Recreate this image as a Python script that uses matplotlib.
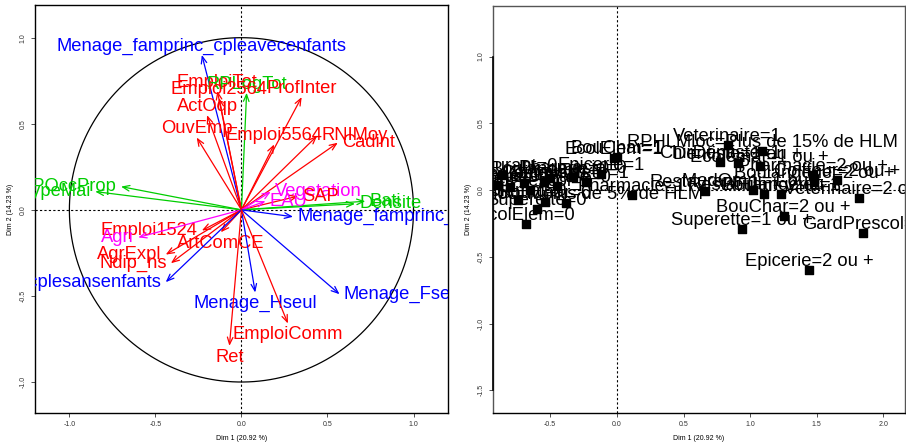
import matplotlib
matplotlib.use("Agg")
import matplotlib.pyplot as plt
import numpy as np

plt.rcParams["font.family"] = ["Liberation Sans", "DejaVu Sans"]

# --- variables (correlation circle) ---
var_names = ["Menage_famprinc_cpleavecenfants", "EmploiTot", "RPLogTot", "Emploi2564",
             "ProfInter", "ActOqp", "OuvEmp", "Emploi5564", "RNIMoy", "Cadint",
             "RPOccProp", "TypeMai", "Vegetation", "SAP", "Bati", "Densite", "EAU",
             "Menage_famprinc_monop", "Emploi1524", "Agri", "ArtComCE", "AgrExpl",
             "Ndip_ns", "Menage_famprinc_cplesansenfants", "Menage_Hseul",
             "Menage_Fseul", "EmploiComm", "Ret"]
var_dim1 = [-0.23, -0.14, 0.03, -0.13, 0.35, -0.20, -0.26, 0.19, 0.44, 0.56,
            -0.70, -0.85, 0.17, 0.33, 0.72, 0.66, 0.14, 0.30, -0.23, -0.60,
            -0.12, -0.44, -0.41, -0.44, 0.08, 0.57, 0.27, -0.07]
var_dim2 = [0.90, 0.69, 0.68, 0.65, 0.655, 0.55, 0.42, 0.38, 0.43, 0.39,
            0.135, 0.106, 0.105, 0.08, 0.05, 0.035, 0.05, -0.04, -0.12, -0.16,
            -0.13, -0.26, -0.31, -0.42, -0.48, -0.49, -0.66, -0.79]
var_group = ["menage", "pop", "logement", "pop", "pop", "pop", "pop", "pop", "pop", "pop",
             "logement", "logement", "sol", "pop", "logement", "logement", "sol",
             "menage", "pop", "sol", "pop", "pop", "pop", "menage", "menage",
             "menage", "pop", "pop"]
group_colors = {"pop": "#FF0000", "logement": "#00CD00", "menage": "#0000FF", "sol": "#FF00FF"}

# --- modalities (categories) ---
cat_names = ["Veterinaire=1", "RPHLMloc=Plus de 15% de HLM", "Dentiste=1 ou +", "Ecolemat=1 ou +",
             "BouChar=1", "EcolElem=1", "ChirDentiste=1", "Epicerie=1", "Pharmacie=2 ou +",
             "Coiffeur=2 ou +", "Boulangerie=2 ou +", "MedOmni=1 ou +", "Restaurant=2 ou +",
             "Boulangerie=1", "Restaurant=1", "Veterinaire=2 ou +", "BouChar=2 ou +",
             "Superette=1 ou +", "GardPrescol=1", "Epicerie=2 ou +", "EcolElem=0",
             "RPHLMloc=Moins de 5% de HLM", "Pharmacie=1", "Ecolemat=0", "Superette=0",
             "BouChar=0", "Restaurant=0", "Boulangerie=0", "Pharmacie=0", "Coiffeur=1",
             "Dentiste=0", "MedOmni=0", "Veterinaire=0", "GardPrescol=0", "Epicerie=0",
             "Coiffeur=0"]
cat_dim1 = [0.83, 1.09, 0.91, 1.07, 0.00, -0.02, 0.77, -0.12, 1.47,
            1.65, 1.48, 1.02, 1.10, 1.23, 0.66, 1.82, 1.25,
            0.94, 1.85, 1.44, -0.68, -0.38, 0.11, -0.74, -0.60,
            -0.54, -0.86, -0.50, -0.33, -0.23, -0.80, -0.70, -0.45, -0.65, -0.90, -0.55]
cat_dim2 = [0.34, 0.29, 0.205, 0.18, 0.25, 0.24, 0.21, 0.12, 0.11,
            0.075, 0.06, 0.0, -0.03, -0.03, -0.01, -0.06, -0.195,
            -0.29, -0.32, -0.60, -0.255, -0.10, -0.035, -0.075, -0.14,
            -0.09, 0.11, 0.09, 0.10, 0.06, 0.025, 0.05, 0.03, 0.0, 0.04, 0.06]

xlab = "Dim 1 (20.92 %)"
ylab = "Dim 2 (14.23 %)"
label_size = 13.2


def style_axes(ax, xticks, yticks, spine_color="black"):
    ax.set_xticks(xticks)
    ax.set_yticks(yticks)
    ax.set_xticklabels([f"{t:.1f}" for t in xticks])
    ax.set_yticklabels([f"{t:.1f}" for t in yticks], rotation=90, va="center")
    ax.tick_params(labelsize=5, length=3, width=0.6, pad=3, colors="#333333")
    ax.set_xlabel(xlab, fontsize=5, labelpad=5)
    ax.set_ylabel(ylab, fontsize=5, labelpad=4)
    for s in ax.spines.values():
        s.set_linewidth(1.0)
        s.set_color(spine_color)
    ax.axhline(0, color="black", lw=0.8, ls=(0, (2, 2)), zorder=1)
    ax.axvline(0, color="black", lw=0.8, ls=(0, (2, 2)), zorder=1)


fig = plt.figure(figsize=(9.06, 4.44), dpi=100)

# ---------------- left: variables ----------------
ax1 = fig.add_axes([0.0386, 0.0698, 0.4558, 0.919])
ax1.set_xlim(-1.2, 1.2)
ax1.set_ylim(-1.18, 1.19)
style_axes(ax1, [-1.0, -0.5, 0.0, 0.5, 1.0], [-1.0, -0.5, 0.0, 0.5, 1.0])

t = np.linspace(0, 2 * np.pi, 400)
ax1.plot(np.cos(t), np.sin(t), color="black", lw=0.9)

for name, x, y, g in zip(var_names, var_dim1, var_dim2, var_group):
    c = group_colors[g]
    ax1.annotate("", xy=(x, y), xytext=(0, 0),
                 arrowprops=dict(arrowstyle="->,head_length=0.5,head_width=0.2",
                                 color=c, lw=0.9, shrinkA=0, shrinkB=0))
    # label placement like FactoMineR: side depends on the dominant coordinate
    if abs(x) > abs(y):
        if x >= 0:
            off, ha, va = (3, 0), "left", "center"
        else:
            off, ha, va = (-3, 0), "right", "center"
    else:
        if y >= 0:
            off, ha, va = (0, 3), "center", "baseline"
        else:
            off, ha, va = (0, -2), "center", "top"
    ax1.annotate(name, xy=(x, y), xytext=off, textcoords="offset points",
                 ha=ha, va=va, color=c, fontsize=label_size, annotation_clip=False,
                 clip_on=True)

# ---------------- right: categories ----------------
ax2 = fig.add_axes([0.544, 0.0698, 0.4547, 0.917])
ax2.set_xlim(-0.93, 2.16)
ax2.set_ylim(-1.67, 1.38)
style_axes(ax2, [-0.5, 0.0, 0.5, 1.0, 1.5, 2.0], [-1.5, -1.0, -0.5, 0.0, 0.5, 1.0],
           spine_color="#555555")
ax2.spines["bottom"].set_color("black")
# axis line between first and last tick, as R draws it
ax2.plot([0, 0], [-1.5, 1.0], transform=ax2.get_yaxis_transform(), color="black",
         lw=1.2, clip_on=False, zorder=5)

ax2.scatter(cat_dim1, cat_dim2, marker="s", s=40, color="black", zorder=3)
for name, x, y in zip(cat_names, cat_dim1, cat_dim2):
    ax2.annotate(name, xy=(x, y), xytext=(0, 3), textcoords="offset points",
                 ha="center", va="baseline", color="black", fontsize=label_size,
                 annotation_clip=False, clip_on=True, zorder=4)

fig.savefig("out.png", dpi=100)
